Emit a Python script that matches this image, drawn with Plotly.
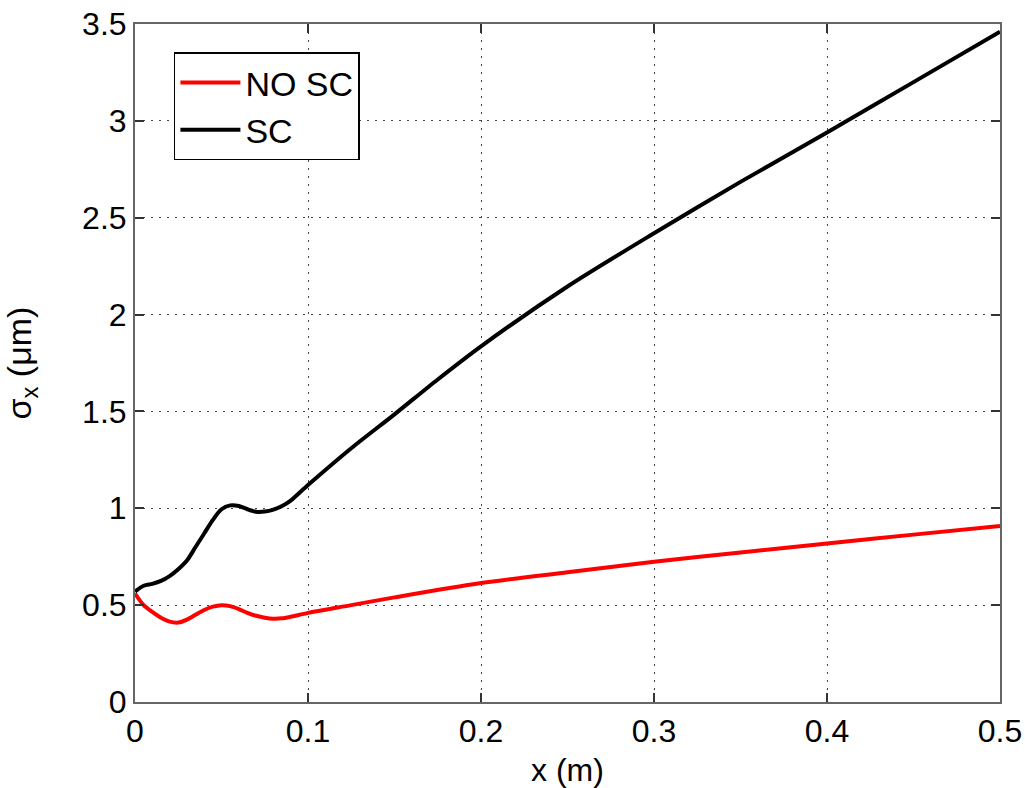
import plotly.graph_objects as go

# Data
x_sc = [0.0, 0.005, 0.01, 0.015, 0.02, 0.025, 0.03, 0.035, 0.04, 0.045, 0.05, 0.055, 0.06, 0.065,
        0.07, 0.075, 0.08, 0.085, 0.09, 0.1, 0.125, 0.15, 0.175, 0.2, 0.25, 0.3, 0.35, 0.4, 0.45, 0.5]
y_sc = [0.57, 0.60, 0.61, 0.625, 0.65, 0.685, 0.73, 0.80, 0.87, 0.94, 0.995, 1.015, 1.012, 0.995,
        0.982, 0.983, 0.993, 1.012, 1.04, 1.12, 1.31, 1.485, 1.665, 1.836, 2.145, 2.42, 2.685, 2.94, 3.20, 3.46]

x_nosc = [0.0, 0.005, 0.01, 0.015, 0.02, 0.025, 0.03, 0.035, 0.04, 0.045, 0.05, 0.055, 0.06, 0.065,
          0.07, 0.075, 0.08, 0.085, 0.09, 0.1, 0.125, 0.15, 0.2, 0.25, 0.3, 0.35, 0.4, 0.45, 0.5]
y_nosc = [0.56, 0.50, 0.465, 0.435, 0.415, 0.41, 0.425, 0.45, 0.475, 0.492, 0.50, 0.495, 0.48, 0.46,
          0.445, 0.435, 0.43, 0.432, 0.44, 0.46, 0.50, 0.54, 0.614, 0.67, 0.724, 0.772, 0.818, 0.864, 0.908]

x_ticks = [0, 0.1, 0.2, 0.3, 0.4, 0.5]
x_tick_labels = ["0", "0.1", "0.2", "0.3", "0.4", "0.5"]
y_ticks = [0, 0.5, 1, 1.5, 2, 2.5, 3, 3.5]
y_tick_labels = ["0", "0.5", "1", "1.5", "2", "2.5", "3", "3.5"]

fig = go.Figure()
fig.add_trace(go.Scatter(x=x_nosc, y=y_nosc, mode="lines", name="NO SC",
                         line=dict(color="#ff0000", width=4, shape="spline", smoothing=0.8)))
fig.add_trace(go.Scatter(x=x_sc, y=y_sc, mode="lines", name="SC",
                         line=dict(color="#000000", width=4, shape="spline", smoothing=0.8)))

axis_common = dict(
    showline=True, linecolor="#666666", linewidth=2, mirror="ticks",
    ticks="inside", ticklen=9, tickcolor="#333333", tickwidth=1.5,
    showgrid=True, gridcolor="#444444", griddash="2px,6px", gridwidth=1,
    zeroline=False, automargin=False,
)

FONT = "Liberation Sans, Arial, sans-serif"

fig.update_layout(
    width=1025, height=788,
    margin=dict(l=135, r=25, t=24, b=86),
    paper_bgcolor="white", plot_bgcolor="white",
    font=dict(family=FONT, size=32, color="black"),
    xaxis=dict(range=[0, 0.5], tickvals=x_ticks, ticktext=x_tick_labels,
               title=dict(text="x (m)", standoff=10, font=dict(size=32)),
               tickfont=dict(size=32),
               **axis_common),
    yaxis=dict(range=[0, 3.5], tickvals=y_ticks, ticktext=y_tick_labels,
               title=dict(text="σ<sub>x</sub> (μm)", standoff=40, font=dict(size=34)),
               tickfont=dict(size=32),
               **axis_common),
    legend=dict(x=0.045, y=0.958, xanchor="left", yanchor="top",
                bgcolor="white", bordercolor="black", borderwidth=1.5,
                font=dict(size=34), itemwidth=60, entrywidth=220, entrywidthmode="pixels"),
    showlegend=True,
)

fig.write_html("out.html")
